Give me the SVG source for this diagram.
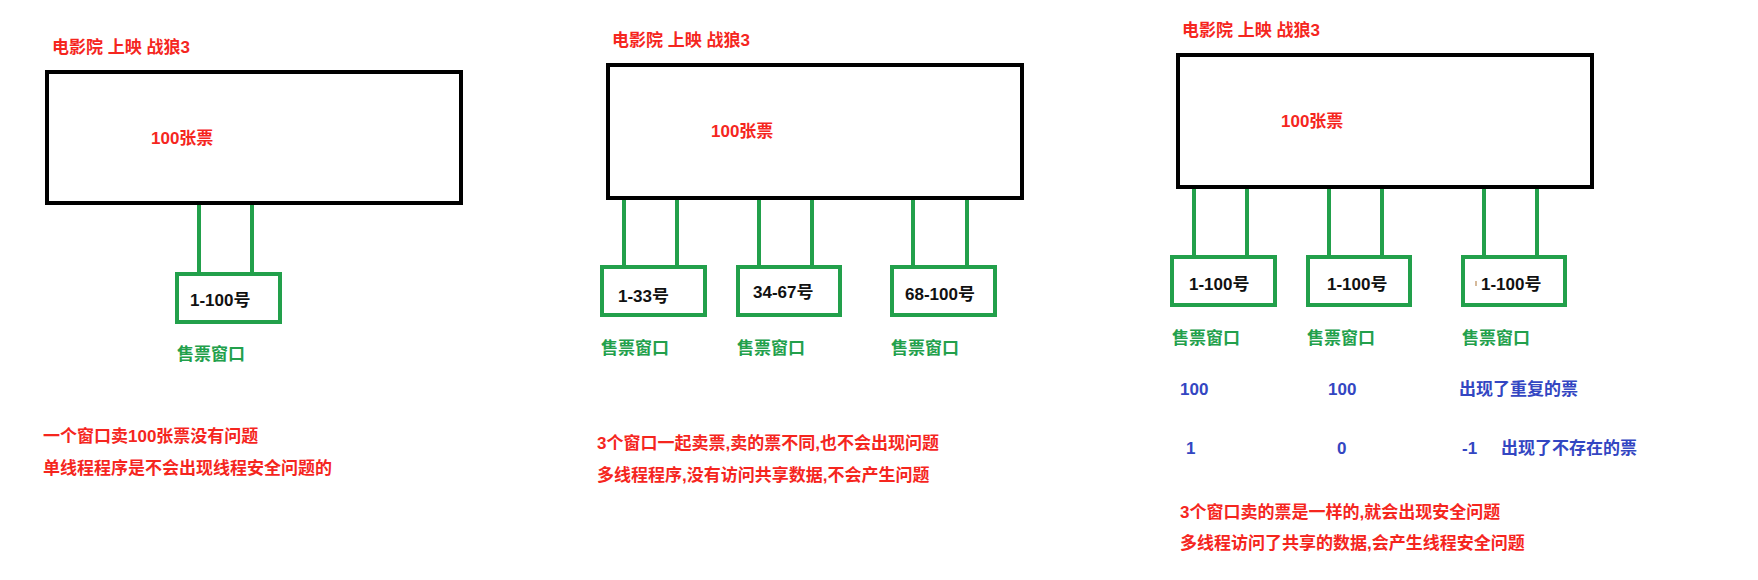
<svg xmlns="http://www.w3.org/2000/svg" width="1758" height="580" viewBox="0 0 1758 580">
<style>
text{font-family:"Liberation Sans","Noto Sans CJK SC",sans-serif;font-weight:bold;font-size:17px}
.red{fill:#f5261e}
.grn{fill:#22a04b}
.blk{fill:#111}
.blu{fill:#3346c2}
.hall{fill:#fff;stroke:#000;stroke-width:4}
.win{fill:#fff;stroke:#22a04b;stroke-width:4}
.conn{stroke:#22a04b;stroke-width:4;fill:none}
</style>
<rect width="1758" height="580" fill="#fff"/>
<g id="connectors">
<line class="conn" x1="199" y1="205" x2="199" y2="274"/>
<line class="conn" x1="252" y1="205" x2="252" y2="274"/>
<line class="conn" x1="624" y1="200" x2="624" y2="267"/>
<line class="conn" x1="677" y1="200" x2="677" y2="267"/>
<line class="conn" x1="759" y1="200" x2="759" y2="267"/>
<line class="conn" x1="812" y1="200" x2="812" y2="267"/>
<line class="conn" x1="913" y1="200" x2="913" y2="267"/>
<line class="conn" x1="967" y1="200" x2="967" y2="267"/>
<line class="conn" x1="1194" y1="189" x2="1194" y2="257"/>
<line class="conn" x1="1247" y1="189" x2="1247" y2="257"/>
<line class="conn" x1="1329" y1="189" x2="1329" y2="257"/>
<line class="conn" x1="1382" y1="189" x2="1382" y2="257"/>
<line class="conn" x1="1484" y1="189" x2="1484" y2="257"/>
<line class="conn" x1="1537" y1="189" x2="1537" y2="257"/>
</g>
<g id="panel1">
<text class="red" x="52" y="53">电影院 上映 战狼3</text>
<g id="hall1"><rect class="hall" x="47" y="72" width="414" height="131"/><text class="red" x="151" y="144">100张票</text></g>
<g id="win1"><rect class="win" x="177" y="274" width="103" height="48"/><text class="blk" x="190" y="306">1-100号</text></g>
<text class="grn" x="177" y="360">售票窗口</text>
<text class="red" x="43" y="442">一个窗口卖100张票没有问题</text>
<text class="red" x="43" y="474">单线程程序是不会出现线程安全问题的</text>
</g>
<g id="panel2">
<text class="red" x="612" y="46">电影院 上映 战狼3</text>
<g id="hall2"><rect class="hall" x="608" y="65" width="414" height="133"/><text class="red" x="711" y="137">100张票</text></g>
<g id="win2a"><rect class="win" x="602" y="267" width="103" height="48"/><text class="blk" x="618" y="302">1-33号</text></g>
<g id="win2b"><rect class="win" x="738" y="267" width="102" height="48"/><text class="blk" x="753" y="298">34-67号</text></g>
<g id="win2c"><rect class="win" x="892" y="267" width="103" height="48"/><text class="blk" x="905" y="300">68-100号</text></g>
<text class="grn" x="601" y="354">售票窗口</text>
<text class="grn" x="737" y="354">售票窗口</text>
<text class="grn" x="891" y="354">售票窗口</text>
<text class="red" x="597" y="449">3个窗口一起卖票,卖的票不同,也不会出现问题</text>
<text class="red" x="597" y="481">多线程程序,没有访问共享数据,不会产生问题</text>
</g>
<g id="panel3">
<text class="red" x="1182" y="36">电影院 上映 战狼3</text>
<g id="hall3"><rect class="hall" x="1178" y="55" width="414" height="132"/><text class="red" x="1281" y="127">100张票</text></g>
<g id="win3a"><rect class="win" x="1172" y="257" width="103" height="48"/><text class="blk" x="1189" y="290">1-100号</text></g>
<g id="win3b"><rect class="win" x="1308" y="257" width="102" height="48"/><text class="blk" x="1327" y="290">1-100号</text></g>
<g id="win3c"><rect class="win" x="1463" y="257" width="102" height="48"/><line x1="1476" y1="281" x2="1476" y2="286" stroke="#c9a37a" stroke-width="1.5"/><text class="blk" x="1481" y="290">1-100号</text></g>
<text class="grn" x="1172" y="344">售票窗口</text>
<text class="grn" x="1307" y="344">售票窗口</text>
<text class="grn" x="1462" y="344">售票窗口</text>
<text class="blu" x="1180" y="395">100</text>
<text class="blu" x="1328" y="395">100</text>
<text class="blu" x="1459" y="395">出现了重复的票</text>
<text class="blu" x="1186" y="454">1</text>
<text class="blu" x="1337" y="454">0</text>
<text class="blu" x="1462" y="454">-1</text>
<text class="blu" x="1501" y="454">出现了不存在的票</text>
<text class="red" x="1180" y="518">3个窗口卖的票是一样的,就会出现安全问题</text>
<text class="red" x="1180" y="549">多线程访问了共享的数据,会产生线程安全问题</text>
</g>
</svg>
